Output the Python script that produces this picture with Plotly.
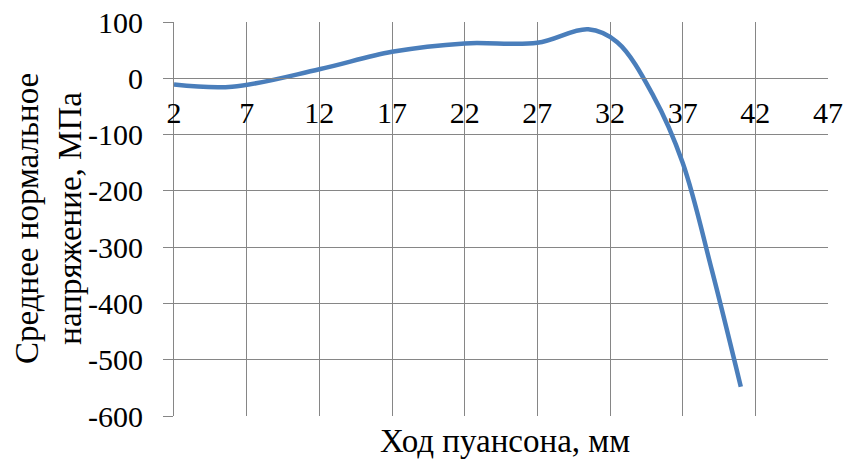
import plotly.graph_objects as go

# Punch stroke (mm) and mean normal stress (MPa)
stroke_mm = [2, 6, 12, 17, 22, 27, 30.5, 32.5, 35, 37, 39, 41]
mean_stress_mpa = [-11, -15, 16, 47, 62, 63, 87, 64, -32, -150, -340, -548]

x_ticks = [2, 7, 12, 17, 22, 27, 32, 37, 42, 47]
y_ticks = [100, 0, -100, -200, -300, -400, -500, -600]

X_RANGE = [2, 47]
Y_RANGE = [-600, 100]

GRID = "#868686"
LINE = "#4A7EBB"
FONT = "Liberation Serif"
FS = 30
TITLE_FS = 33

fig = go.Figure()
fig.add_trace(go.Scatter(
    x=stroke_mm, y=mean_stress_mpa, mode="lines",
    line=dict(color=LINE, width=4.5, shape="spline", smoothing=1.0),
    hoverinfo="skip", showlegend=False,
))

# horizontal axis sits on the y = 0 line
zero_pos = (0 - Y_RANGE[0]) / (Y_RANGE[1] - Y_RANGE[0])

fig.update_layout(
    width=846, height=460,
    margin=dict(l=174, r=18, t=22, b=44),
    paper_bgcolor="white", plot_bgcolor="white",
    font=dict(family=FONT, size=FS, color="black"),
    xaxis=dict(
        range=X_RANGE, tickmode="array", tickvals=x_ticks,
        ticktext=[str(v) for v in x_ticks],
        showgrid=True, gridcolor=GRID, gridwidth=1,
        showline=True, linecolor=GRID, linewidth=1,
        zeroline=False, ticks="", automargin=False,
        anchor="free", position=zero_pos,
        ticklabelstandoff=8,
        tickfont=dict(family=FONT, size=FS, color="black"),
    ),
    yaxis=dict(
        range=Y_RANGE, tickmode="array", tickvals=y_ticks,
        ticktext=[str(v) for v in y_ticks],
        showgrid=True, gridcolor=GRID, gridwidth=1,
        showline=True, linecolor=GRID, linewidth=1,
        zeroline=False, ticks="outside", ticklen=10, tickcolor=GRID,
        ticklabelstandoff=14, automargin=False,
        tickfont=dict(family=FONT, size=FS, color="black"),
    ),
    annotations=[
        dict(text="Ход пуансона, мм", xref="paper", yref="paper",
             x=0.5, y=0, xshift=4, yshift=-25, xanchor="center", yanchor="middle",
             showarrow=False, font=dict(family=FONT, size=TITLE_FS, color="black")),
        dict(text="Среднее нормальное<br>напряжение, МПа", xref="paper", yref="paper",
             x=0, y=0.5, xshift=-126, xanchor="center", yanchor="middle",
             textangle=-90, showarrow=False,
             font=dict(family=FONT, size=TITLE_FS, color="black")),
    ],
)

fig.write_html("out.html")
